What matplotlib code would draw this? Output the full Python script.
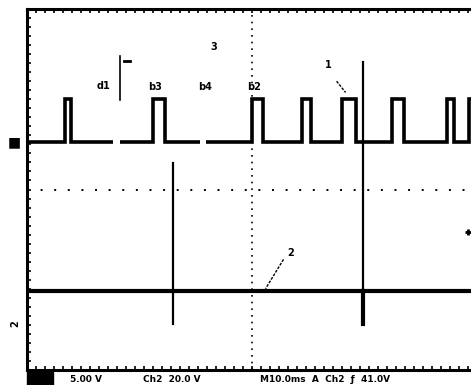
import numpy as np
import matplotlib.pyplot as plt

# scope screen: 10 x 8 divisions, cropped on the right
# channel 1 pulse train (rise, fall) in divisions
rise = [-4.16, -2.20, 0.00, 1.11, 2.00, 3.11, 4.33, 4.82]
fall = [-4.02, -1.93, 0.24, 1.31, 2.31, 3.38, 4.49, 4.95]
ch1_low, ch1_high = 1.05, 2.0
# small dropouts in the scanned baseline (start, end)
gap_start = [-3.09, -1.16]
gap_end = [-2.94, -1.02]

# channel 2: flat line with two spikes
ch2_base = -2.26
spike_x = [-1.76, 2.47]
spike_top = [0.59, 2.83]
spike_bottom = [-2.97, -2.97]
spike_width = [1.6, 3.0]

# labels on the traces
labels = ["3", "d1", "b3", "b4", "b2", "1", "2"]
label_x = [-0.85, -3.3, -2.15, -1.05, 0.05, 1.7, 0.85]
label_y = [3.15, 2.3, 2.28, 2.28, 2.28, 2.75, -1.4]

XMAX = (471 - 252) / 45


def build_ch1():
    xs, ys = [-5.0], [ch1_low]
    for r, f in zip(rise, fall):
        xs += [r, r, f, f]
        ys += [ch1_low, ch1_high, ch1_high, ch1_low]
    xs.append(5.0)
    ys.append(ch1_low)
    return np.array(xs), np.array(ys)


fig = plt.figure(figsize=(4.71, 3.85), dpi=100)
ax = fig.add_axes([27 / 471, 15 / 385, (471 - 27) / 471, 361 / 385])
ax.set_xlim(-5, XMAX)
ax.set_ylim(-4, 4)

# graticule centre lines
ax.axvline(0, color="black", lw=1.2, ls=(0, (1, 3)))
ax.axhline(0, color="black", lw=1.4, ls=(0, (1, 6)))

# channel 1
x1, y1 = build_ch1()
ax.plot(x1, y1, color="black", lw=2.6, solid_joinstyle="miter")
for gs, ge in zip(gap_start, gap_end):
    ax.plot([gs, ge], [ch1_low, ch1_low], color="white", lw=4,
            solid_capstyle="butt")

# channel 2
ax.plot([-5, XMAX], [ch2_base, ch2_base], color="black", lw=3)
for sx, st, sb, sw in zip(spike_x, spike_top, spike_bottom, spike_width):
    ax.plot([sx, sx], [ch2_base, st], color="black", lw=1.6)
    ax.plot([sx, sx], [sb, ch2_base], color="black", lw=sw)

# labels
for t, lx, ly in zip(labels, label_x, label_y):
    ax.text(lx, ly, t, fontsize=7, fontweight="bold", ha="center", va="center")
# pointer for d1 and leader lines
ax.plot([-2.93, -2.93], [2.95, 1.98], color="black", lw=1.2)
ax.plot([-2.85, -2.72], [2.85, 2.85], color="black", lw=2)
ax.plot([1.88, 2.08], [2.4, 2.15], color="black", lw=1, ls=(0, (2, 1)))
ax.plot([0.7, 0.3], [-1.55, -2.2], color="black", lw=1, ls=(0, (2, 1)))
ax.plot(4.8, -0.95, marker="+", color="black", ms=5, mew=2)

# frame
for side in ["left", "top", "bottom"]:
    ax.spines[side].set_linewidth(2.2)
ax.spines["right"].set_visible(False)
ax.set_xticks(np.arange(-5, 4.9, 0.2))
ax.set_yticks(np.arange(-4, 4.01, 0.2))
ax.tick_params(direction="in", length=3, width=1.2, top=True,
               labelbottom=False, labelleft=False)

# channel markers on the left
fig.text(8 / 471, 1 - 142 / 385, "\u25a0", fontsize=10, va="center", ha="left")
fig.text(15 / 471, 1 - 324 / 385, "2", fontsize=7, fontweight="bold",
         va="center", ha="center", rotation=90)

# status line
fig.patches.append(plt.Rectangle((27 / 471, 0), 26 / 471, 13 / 385,
                                 transform=fig.transFigure, color="black"))
status = ["5.00 V", "Ch2  20.0 V", "M10.0ms  A  Ch2  \u0192  41.0V"]
status_x = [70, 143, 260]
for s, sx in zip(status, status_x):
    fig.text(sx / 471, 6 / 385, s, fontsize=6.5, fontweight="bold",
             va="center", ha="left")

fig.savefig("out.png", dpi=100)
